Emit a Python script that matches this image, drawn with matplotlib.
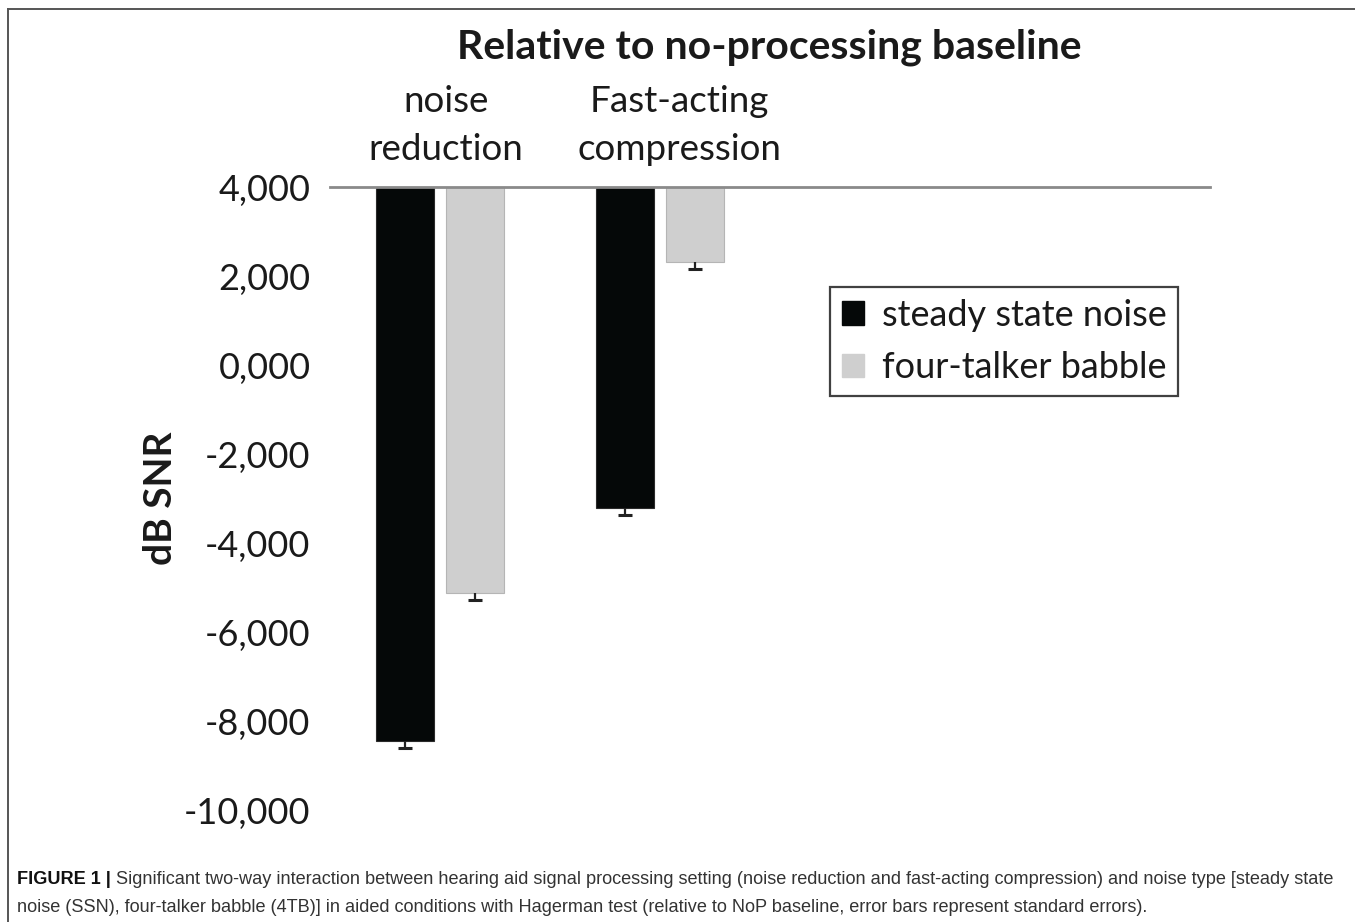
import matplotlib

matplotlib.use("Agg")
import matplotlib.pyplot as plt
from matplotlib.lines import Line2D
from matplotlib.patches import Patch

# dB SNR relative to the no-processing baseline
CATEGORIES = ["noise\nreduction", "Fast-acting\ncompression", "", ""]
SSN_MEANS = [-8.44, -3.21]
TB_MEANS = [-5.12, 2.32]
SSN_SE = [0.17, 0.16]
TB_SE = [0.165, 0.165]
Y_TICKS = [4, 2, 0, -2, -4, -6, -8, -10]
SERIES_LABELS = ["steady state noise", "four-talker babble"]

SSN_COLOR = "#050808"
TB_COLOR = "#cfcfcf"
AXIS_COLOR = "#8a8a8a"
TEXT_COLOR = "#1a1a1a"
MAIN_FONT = ["Lato", "DejaVu Sans"]
CAP_FONT = ["Liberation Sans", "DejaVu Sans"]

BASE = Y_TICKS[0]
W, H = 1355, 922


def commaFmt(v):
    return f"{v:.3f}".replace(".", ",")


# Draws lower-only error bars with a single cap.
def lowerErr(ax, xs, means, errs, capHalf):
    lows = [m - e for m, e in zip(means, errs)]
    ax.vlines(xs, lows, means, color="#222222", linewidth=1.6, zorder=3)
    ax.hlines(lows, [x - capHalf for x in xs], [x + capHalf for x in xs],
              color="#222222", linewidth=2.2, zorder=3)


fig = plt.figure(figsize=(W / 100, H / 100), dpi=100)
fig.patch.set_facecolor("white")
ax = fig.add_axes([330 / W, 1 - 810 / H, 880 / W, 623 / H])

x = list(range(len(CATEGORIES)))
width = 0.265
offset = 0.158
ssnX = [i - offset for i in x[: len(SSN_MEANS)]]
tbX = [i + offset for i in x[: len(TB_MEANS)]]

# bars hang from the axis line at the top of the scale
ax.bar(ssnX, [v - BASE for v in SSN_MEANS], bottom=BASE, width=width,
       color=SSN_COLOR, edgecolor="#2a2a2a", linewidth=0.8, zorder=2)
ax.bar(tbX, [v - BASE for v in TB_MEANS], bottom=BASE, width=width,
       color=TB_COLOR, edgecolor="#b5b5b5", linewidth=0.8, zorder=2)
lowerErr(ax, ssnX, SSN_MEANS, SSN_SE, 0.032)
lowerErr(ax, tbX, TB_MEANS, TB_SE, 0.032)

ax.set_xlim(-0.5, len(CATEGORIES) - 0.5)
ax.set_ylim(Y_TICKS[-1], Y_TICKS[0])
ax.set_yticks(Y_TICKS)
ax.set_yticklabels([commaFmt(v) for v in Y_TICKS], fontfamily=MAIN_FONT,
                   fontsize=26, color=TEXT_COLOR)
ax.set_xticks([])
ax.tick_params(axis="y", length=0, pad=14)
for side in ["left", "right", "bottom"]:
    ax.spines[side].set_visible(False)
ax.spines["top"].set_color(AXIS_COLOR)
ax.spines["top"].set_linewidth(2.0)
ax.spines["top"].set_zorder(4)

ax.set_ylabel("dB SNR", fontfamily=MAIN_FONT, fontsize=28, fontweight="bold",
              color=TEXT_COLOR, labelpad=4)

# category names sit above the axis line, one text per line
catX = [446, 679]
for cx, label in zip(catX, CATEGORIES):
    for row, part in enumerate(label.split("\n")):
        fig.text(cx / W, 1 - (102 + 48 * row) / H, part, ha="center",
                 va="center", fontfamily=MAIN_FONT, fontsize=26.5,
                 color=TEXT_COLOR)

fig.text(769 / W, 1 - 47 / H, "Relative to no-processing baseline",
         ha="center", va="center", fontfamily=MAIN_FONT, fontsize=29.5,
         fontweight="bold", color=TEXT_COLOR)

handles = [
    Patch(facecolor=SSN_COLOR, edgecolor=SSN_COLOR),
    Patch(facecolor=TB_COLOR, edgecolor=TB_COLOR),
]
leg = fig.legend(
    handles,
    SERIES_LABELS,
    loc="upper left",
    bbox_to_anchor=(830 / W, 1 - 287 / H),
    prop={"family": MAIN_FONT, "size": 26},
    frameon=True,
    fancybox=False,
    handlelength=0.62,
    handleheight=0.62,
    handletextpad=0.5,
    labelspacing=0.55,
    borderpad=0.32,
    borderaxespad=0,
)
leg.get_frame().set_edgecolor("#111111")
leg.get_frame().set_linewidth(1.6)
for t in leg.get_texts():
    t.set_color(TEXT_COLOR)

# thin frame around the chart panel
fig.add_artist(Line2D([8 / W, 1], [1 - 9 / H, 1 - 9 / H],
                      color="#555555", linewidth=1.4))
fig.add_artist(Line2D([8 / W, 8 / W], [0, 1 - 9 / H],
                      color="#555555", linewidth=1.4))

# figure caption: bold lead-in followed by the running text
head = fig.text(17 / W, 1 - 884 / H, "FIGURE 1 | ", fontfamily=CAP_FONT,
                fontsize=13.1, fontweight="bold", color="#111111",
                va="baseline")
ax.annotate(
    "Significant two-way interaction between hearing aid signal processing "
    "setting (noise reduction and fast-acting compression) and noise type "
    "[steady state",
    xy=(1, 0),
    xycoords=head,
    va="bottom",
    fontfamily=CAP_FONT,
    fontsize=13.1,
    color="#333333",
    annotation_clip=False,
)
fig.text(17 / W, 1 - 912 / H,
         "noise (SSN), four-talker babble (4TB)] in aided conditions with "
         "Hagerman test (relative to NoP baseline, error bars represent "
         "standard errors).",
         fontfamily=CAP_FONT, fontsize=13.1, color="#333333", va="baseline")

fig.savefig("out.png", dpi=100, facecolor="white")
